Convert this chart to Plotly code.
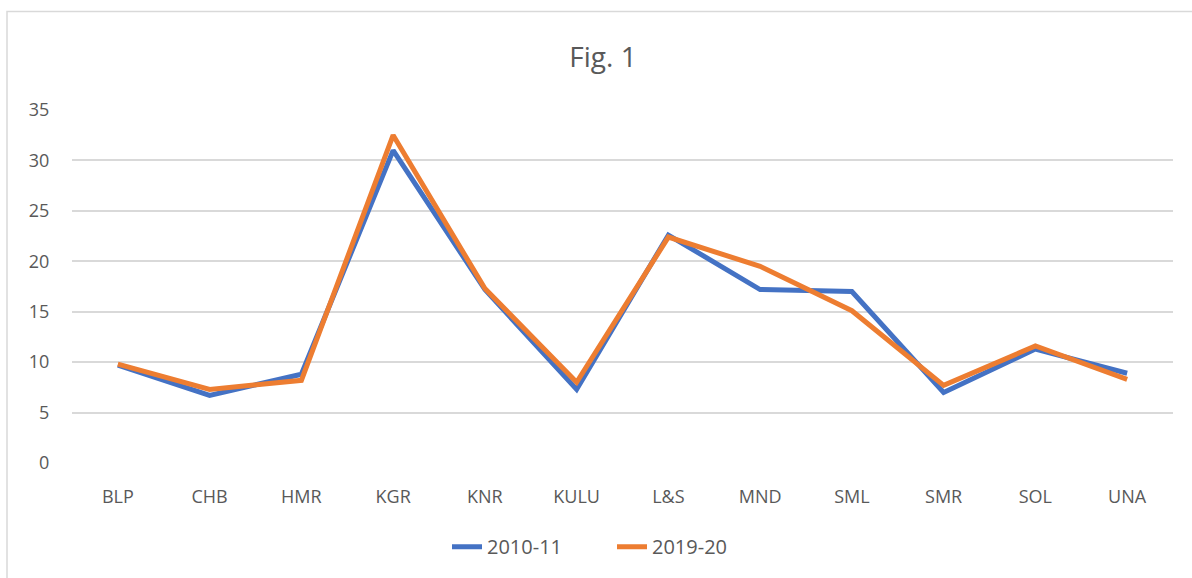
import plotly.graph_objects as go

categories = ["BLP", "CHB", "HMR", "KGR", "KNR", "KULU", "L&S", "MND", "SML", "SMR", "SOL", "UNA"]
series_2010_11 = [9.7, 6.7, 8.8, 31.0, 17.2, 7.3, 22.6, 17.2, 17.0, 7.0, 11.3, 8.9]
series_2019_20 = [9.8, 7.3, 8.2, 32.5, 17.3, 8.0, 22.4, 19.5, 15.1, 7.7, 11.6, 8.3]
y_ticks = [0, 5, 10, 15, 20, 25, 30, 35]

FONT = "Open Sans"
fig = go.Figure()
fig.add_trace(go.Scatter(x=categories, y=series_2010_11, name="2010-11", mode="lines",
                         line=dict(color="#4472C4", width=5)))
fig.add_trace(go.Scatter(x=categories, y=series_2019_20, name="2019-20", mode="lines",
                         line=dict(color="#ED7D31", width=5)))

fig.update_layout(
    width=1192, height=578,
    margin=dict(l=72, r=19, t=110, b=113),
    paper_bgcolor="white", plot_bgcolor="white",
    title=dict(text="Fig. 1", x=(603 - 72) / 1101, xref="paper", xanchor="center",
               y=1 - 57 / 578, yanchor="middle",
               font=dict(family=FONT, size=28, color="#595959")),
    font=dict(family=FONT, size=18, color="#595959"),
    showlegend=True,
    legend=dict(orientation="h", x=(612 - 72) / 1101, xanchor="center", y=-0.237, yanchor="middle",
                font=dict(family=FONT, size=20, color="#595959"), traceorder="normal",
                entrywidth=120),
    xaxis=dict(type="category", showgrid=False, showline=False, zeroline=False,
               ticks="outside", ticklen=17, tickcolor="rgba(0,0,0,0)",
               range=[-0.5, len(categories) - 0.5]),
    yaxis=dict(range=[0, 35], tickvals=y_ticks, showgrid=True, gridcolor="#d9d9d9", gridwidth=1.5,
               zeroline=False, showline=False, ticks="outside", ticklen=18,
               tickcolor="rgba(0,0,0,0)"),
    shapes=[dict(type="rect", xref="paper", yref="paper",
                 x0=(7 - 72) / 1101, x1=(1200 - 72) / 1101,
                 y0=(465 - 590) / 355, y1=(465 - 11) / 355,
                 line=dict(color="#d9d9d9", width=1.5), layer="below")],
)

fig.write_html("out.html", config={"displayModeBar": False},
               post_script="document.body.style.margin='0';")
